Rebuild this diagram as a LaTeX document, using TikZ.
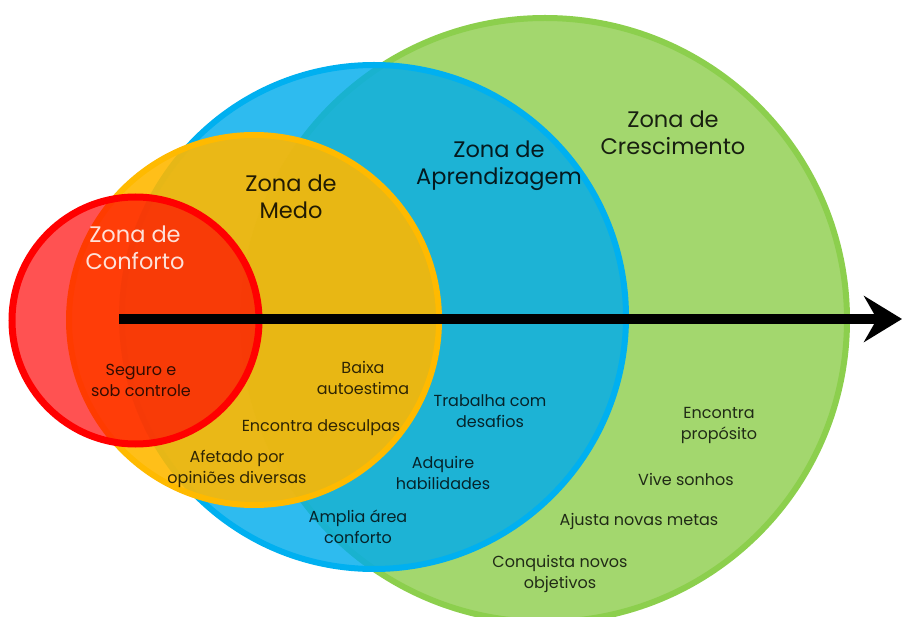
\documentclass[tikz,border=0pt]{standalone}
\usepackage{fontspec}
\setmainfont{Poppins}
\usetikzlibrary{arrows.meta}
\definecolor{growthfill}{HTML}{A3D76E}
\definecolor{growthline}{HTML}{8CCF4D}
\definecolor{learnfill}{HTML}{00ACEC}
\definecolor{learnline}{HTML}{00B0F0}
\definecolor{fearfill}{HTML}{FFB800}
\definecolor{fearline}{HTML}{FFBA00}
\definecolor{comfortfill}{HTML}{FF0000}
\definecolor{comfortline}{HTML}{FF0000}
\tikzset{
  zone/.style={line width=6pt},
  title/.style={font=\fontsize{22.5}{27}\selectfont, align=center, text=black, text opacity=0.85},
  trait/.style={font=\fontsize{16}{21}\selectfont, align=center, text=black, text opacity=0.8},
}
\begin{document}
\begin{tikzpicture}[x=1pt,y=-1pt]
  \useasboundingbox (0,0) rectangle (902,617);
  \draw[zone, draw=growthline, fill=growthfill] (545,320) circle[radius=302pt];
  \draw[zone, draw=learnline, fill=learnfill, fill opacity=0.82] (374,317) circle[radius=252pt];
  \draw[zone, draw=fearline, fill=fearfill, fill opacity=0.9] (254,320) circle[radius=185pt];
  \draw[zone, line width=7pt, draw=comfortline, fill=comfortfill, fill opacity=0.68] (135.5,320.5) circle[radius=123.5pt];
  \coordinate (start) at (119,319);
  \coordinate (end) at (902,319);
  \draw[line width=10pt, -{Stealth[length=38pt,width=46pt,inset=13pt]}] (start) -- (end);
  \node[title, text=white] (comfort) at (135,248) {Zona de\\Conforto};
  \node[title] (fear) at (291,197) {Zona de\\Medo};
  \node[title] (learn) at (499,166) {Zona de\\Aprendizagem};
  \node[title] (growth) at (673,133) {Zona de\\Crescimento};
  \node[trait] (safe) at (141,380) {Seguro e\\sob controle};
  \node[trait] (esteem) at (363,378) {Baixa\\autoestima};
  \node[trait] (excuses) at (321,428) {Encontra desculpas};
  \node[trait] (opinions) at (237,469) {Afetado por\\opiniões diversas};
  \node[trait] (challenges) at (490,411) {Trabalha com\\desafios};
  \node[trait] (skills) at (443,473) {Adquire\\habilidades};
  \node[trait] (widen) at (358,527) {Amplia área\\conforto};
  \node[trait] (purpose) at (719,425) {Encontra\\propósito};
  \node[trait] (dreams) at (686,479) {Vive sonhos};
  \node[trait] (goals) at (639,521) {Ajusta novas metas};
  \node[trait] (conquer) at (560,574) {Conquista novos\\objetivos};
\end{tikzpicture}
\end{document}
